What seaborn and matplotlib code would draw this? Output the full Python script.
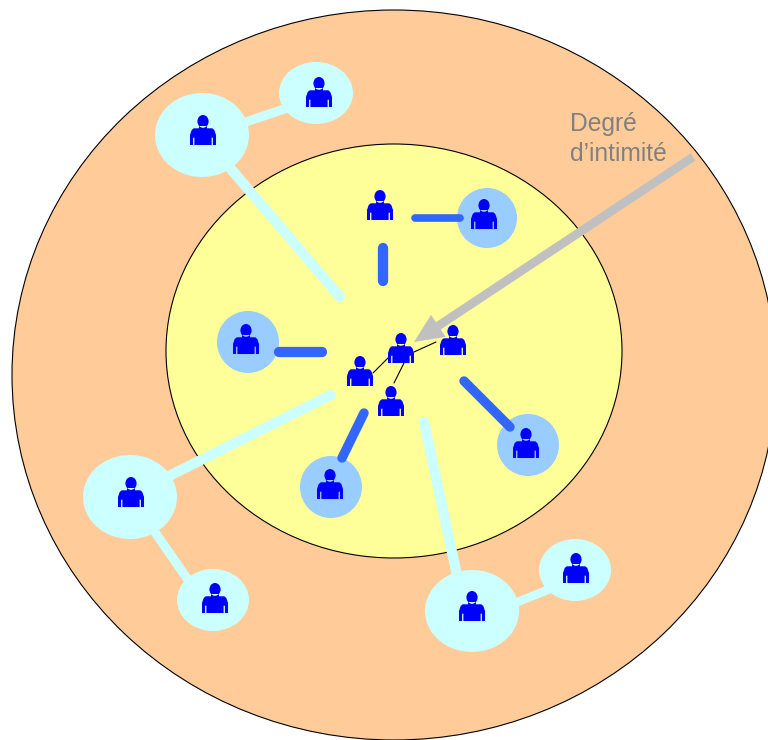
import matplotlib
matplotlib.use('Agg')
import matplotlib.pyplot as plt
import pandas as pd
import seaborn as sns
from matplotlib.patches import Ellipse
from matplotlib.path import Path
from matplotlib.transforms import Affine2D

# zones (x, y, rx, ry)
outer_zone = (394, 375, 382, 365)
inner_zone = (394, 351, 228, 207)

# personnes
people_x = [401, 453, 360, 391, 380, 484, 246, 526, 330, 131, 215, 472, 576, 203, 319]
people_y = [348, 340, 371, 401, 205, 214, 339, 443, 484, 492, 598, 606, 568, 130, 92]

# bulles
close_bubbles = [(487, 218, 30, 30), (248, 342, 31, 31), (528, 445, 31, 31), (331, 487, 31, 31)]
far_bubbles = [(202, 135, 47, 42), (316, 93, 37, 31), (130, 497, 47, 42),
               (213, 600, 36, 31), (472, 611, 47, 41), (575, 570, 36, 31)]

# liens (x0, y0, x1, y1, largeur)
close_links = [(415, 218, 460, 218, 5.5), (383, 248, 383, 281, 7.4), (279, 352, 322, 352, 7.4),
               (464, 381, 510, 427, 6.8), (364, 413, 342, 458, 6.8)]
far_links = [(225, 162, 340, 297, 7.4), (240, 124, 290, 107, 6.6), (331, 395, 165, 478, 7.4),
             (150, 525, 195, 590, 6.6), (424, 422, 458, 580, 7.4), (505, 607, 555, 587, 6.2)]
thin_links = [(393, 353, 373, 373, 0.8), (404, 363, 394, 383, 0.8), (414, 352, 436, 342, 0.8)]

arrow_start = (693, 157)
arrow_tip = (414, 342)

ORANGE = '#FFCC99'
YELLOW = '#FFFF99'
CLOSE = '#99CCFF'
FAR = '#CCFFFF'
LINK = '#3366FF'
ICON = '#0000FF'
GREY = '#C0C0C0'


def person_marker():
    head = Path.unit_circle().transformed(Affine2D().scale(5.6, 6.4).translate(0, 8.6))
    body = Path([(-4, 4), (4, 4), (4, 1.7), (9.3, 1.7), (11.3, 0), (13, -5), (13, -15), (9.9, -15),
                 (9.9, -7.7), (8.6, -7.7), (8.6, -15), (-8.6, -15), (-8.6, -7.7), (-9.9, -7.7), (-9.9, -15),
                 (-13, -15), (-13, -5), (-11.3, 0), (-9.3, 1.7), (-4, 1.7), (-4, 4)], closed=True)
    return Path.make_compound_path(head, body)


def draw_links(ax, links, color, zorder):
    for x0, y0, x1, y1, w in links:
        df = pd.DataFrame({'x': [x0, x1], 'y': [y0, y1]})
        sns.lineplot(data=df, x='x', y='y', ax=ax, color=color, linewidth=w, sort=False,
                     estimator=None, solid_capstyle='round', zorder=zorder)


sns.set_style('white')
plt.rcParams['font.family'] = ['Liberation Sans', 'DejaVu Sans']

fig = plt.figure(figsize=(7.68, 7.40), dpi=100)
ax = fig.add_axes([0, 0, 1, 1])

for (x, y, rx, ry), c in [(outer_zone, ORANGE), (inner_zone, YELLOW)]:
    ax.add_patch(Ellipse((x, y), 2 * rx, 2 * ry, facecolor=c, edgecolor='black', linewidth=0.8, zorder=1))

draw_links(ax, far_links, FAR, 2)

for x, y, rx, ry in close_bubbles:
    ax.add_patch(Ellipse((x, y), 2 * rx, 2 * ry, facecolor=CLOSE, edgecolor='none', zorder=3))
for x, y, rx, ry in far_bubbles:
    ax.add_patch(Ellipse((x, y), 2 * rx, 2 * ry, facecolor=FAR, edgecolor='none', zorder=3))

draw_links(ax, close_links, LINK, 4)
draw_links(ax, thin_links, 'black', 4)

sns.scatterplot(x=people_x, y=people_y, ax=ax, marker=person_marker(), s=467, color=ICON,
                edgecolor='none', linewidth=0, zorder=5)

ax.annotate('', xy=arrow_tip, xytext=arrow_start, zorder=6,
            arrowprops=dict(facecolor=GREY, edgecolor='none', width=6.3, headwidth=19,
                            headlength=21, shrink=0))

ax.text(570, 124, 'Degré', color='#808080', fontsize=17.7, va='center', ha='left', zorder=6)
ax.text(570, 154, 'd’intimité', color='#808080', fontsize=17.7, va='center', ha='left', zorder=6)

ax.set_xlim(0, 768)
ax.set_ylim(740, 0)
ax.set_xlabel('')
ax.set_ylabel('')
ax.axis('off')

fig.savefig('out.png', dpi=100)
